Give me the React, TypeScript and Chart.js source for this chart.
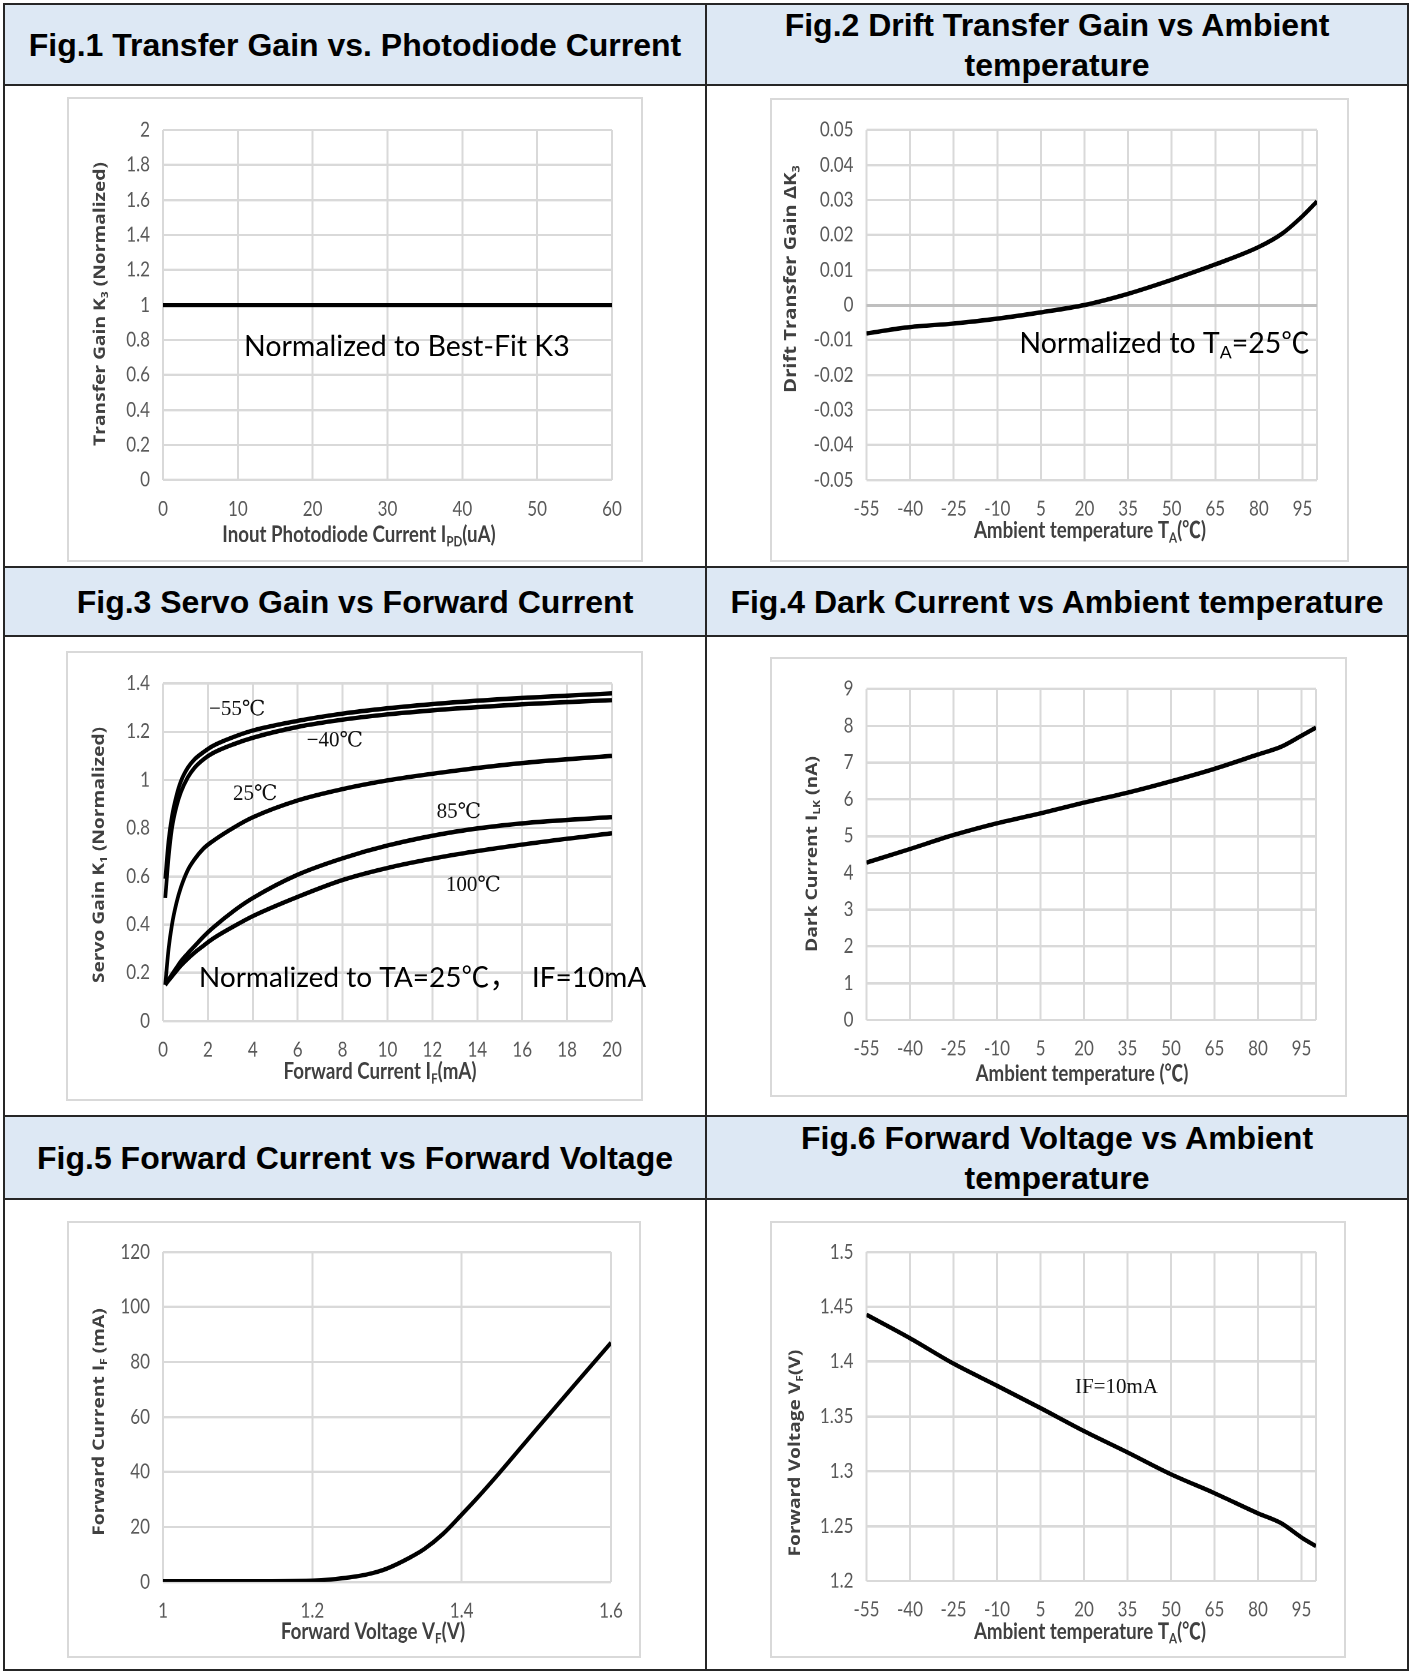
import React, { useEffect, useRef } from "react";
import { Chart, registerables } from "chart.js";

Chart.register(...registerables);

// vertical stretch of the original chart pictures
const S = 1.2;

// ---------------- DATA ----------------
// Fig.1
const fig1Current = [0, 60];
const fig1Gain = [1, 1];
const fig1XTicks = [0, 10, 20, 30, 40, 50, 60];
const fig1YTicks = [0, 0.2, 0.4, 0.6, 0.8, 1, 1.2, 1.4, 1.6, 1.8, 2];

// shared temperature axis
const tempTicks = [-55, -40, -25, -10, 5, 20, 35, 50, 65, 80, 95, 100];
const tempUnlabeled = [100];

// Fig.2
const fig2Temp = [-55, -40, -25, -10, 5, 20, 35, 50, 65, 80, 88, 95, 100];
const fig2Drift = [-0.0081, -0.0063, -0.0053, -0.0039, -0.0021, 0.0, 0.0032, 0.0072, 0.0116, 0.0166, 0.0204, 0.0254, 0.0296];
const fig2YTicks = [-0.05, -0.04, -0.03, -0.02, -0.01, 0, 0.01, 0.02, 0.03, 0.04, 0.05];

// Fig.3
const fig3Current = [0.1, 0.25, 0.4, 0.6, 0.8, 1.1, 1.4, 1.8, 2.2, 3.2, 4, 6, 8, 10, 13, 16, 20];
const fig3GainM55 = [0.59, 0.75, 0.85, 0.935, 0.995, 1.05, 1.085, 1.115, 1.14, 1.18, 1.205, 1.245, 1.275, 1.297, 1.322, 1.34, 1.359];
const fig3GainM40 = [0.51, 0.68, 0.8, 0.89, 0.95, 1.01, 1.05, 1.085, 1.11, 1.15, 1.175, 1.22, 1.25, 1.272, 1.296, 1.314, 1.331];
const fig3Gain25 = [0.15, 0.3, 0.4, 0.49, 0.555, 0.625, 0.67, 0.715, 0.745, 0.805, 0.845, 0.915, 0.962, 0.998, 1.038, 1.07, 1.1];
const fig3Gain85 = [0.15, 0.172, 0.193, 0.221, 0.248, 0.28, 0.31, 0.35, 0.385, 0.46, 0.51, 0.607, 0.675, 0.728, 0.785, 0.82, 0.846];
const fig3Gain100 = [0.15, 0.168, 0.185, 0.208, 0.23, 0.258, 0.283, 0.312, 0.34, 0.395, 0.435, 0.515, 0.585, 0.635, 0.69, 0.732, 0.779];
const fig3XTicks = [0, 2, 4, 6, 8, 10, 12, 14, 16, 18, 20];
const fig3YTicks = [0, 0.2, 0.4, 0.6, 0.8, 1, 1.2, 1.4];

// Fig.4
const fig4Temp = [-55, -40, -25, -10, 5, 20, 35, 50, 65, 80, 88, 95, 100];
const fig4Dark = [4.28, 4.65, 5.03, 5.35, 5.62, 5.91, 6.18, 6.49, 6.83, 7.22, 7.43, 7.73, 7.95];
const fig4YTicks = [0, 1, 2, 3, 4, 5, 6, 7, 8, 9];

// Fig.5
const fig5Voltage = [1.0, 1.1, 1.2, 1.25, 1.28, 1.3, 1.33, 1.35, 1.375, 1.4, 1.42, 1.45, 1.5, 1.55, 1.6];
const fig5Current = [0.2, 0.2, 0.5, 1.7, 3.2, 4.9, 8.8, 12, 17.5, 24.5, 30.3, 39.5, 55.5, 71.3, 87];
const fig5XTicks = [1, 1.2, 1.4, 1.6];
const fig5YTicks = [0, 20, 40, 60, 80, 100, 120];

// Fig.6
const fig6Temp = [-55, -40, -25, -10, 5, 20, 35, 50, 65, 80, 88, 95, 100];
const fig6Voltage = [1.4428, 1.4214, 1.3982, 1.3781, 1.3577, 1.3367, 1.3173, 1.2973, 1.2801, 1.2617, 1.2527, 1.2397, 1.2317];
const fig6YTicks = [1.2, 1.25, 1.3, 1.35, 1.4, 1.45, 1.5];

// ---------------- STYLE ----------------
const LATO = "Lato, 'Noto Sans CJK SC', sans-serif";
const OPEN = "'Open Sans', 'Noto Sans CJK SC', sans-serif";
const SERIF = "'Liberation Serif', 'DejaVu Serif', 'Noto Sans CJK SC', serif";
const GRID = "#d9d9d9";

type Seg = { t: string; sub?: boolean };
type Series = { x: number[]; y: number[] };
type Note = { segs: Seg[]; x: number; y: number; family: string; size: number; color: string };
type Spec = {
  box: { x: number; y: number; w: number; h: number };
  plot: { l: number; r: number; t: number; b: number };
  xRange: [number, number];
  yRange: [number, number];
  xTicks: number[];
  yTicks: number[];
  xHidden?: number[];
  series: Series[];
  xTitle: { segs: Seg[]; cx: number; base: number };
  yTitle: { segs: Seg[]; cx: number; cy: number; size?: number };
  notes: Note[];
  zeroLine?: boolean;
};

function drawSegs(ctx: CanvasRenderingContext2D, segs: Seg[], x: number, y: number, size: number, weight: string, family: string, color: string, align: "left" | "center") {
  ctx.fillStyle = color;
  ctx.textAlign = "left";
  ctx.textBaseline = "alphabetic";
  let total = 0;
  const widths: number[] = [];
  for (const s of segs) {
    ctx.font = `${weight} ${s.sub ? size * 0.62 : size}px ${family}`;
    const w = ctx.measureText(s.t).width;
    widths.push(w);
    total += w;
  }
  let cx = align === "center" ? x - total / 2 : x;
  segs.forEach((s, i) => {
    ctx.font = `${weight} ${s.sub ? size * 0.62 : size}px ${family}`;
    ctx.fillText(s.t, cx, s.sub ? y + size * 0.2 : y);
    cx += widths[i];
  });
}

const fmt = (v: number) => String(parseFloat(Number(v).toFixed(3)));

const EXTRA = 16;
const YT_SIZE = 16;
const XT_SIZE = 18.7;
const TICK_SIZE = 17;

function ChartBox({ spec }: { spec: Spec }) {
  const ref = useRef<HTMLCanvasElement>(null);
  const W = spec.box.w + EXTRA;
  const H = Math.round(spec.box.h / S);
  useEffect(() => {
    const { box, plot } = spec;
    const left = plot.l - box.x;
    const right = plot.r - box.x;
    const top = (plot.t - box.y) / S;
    const bottom = (plot.b - box.y) / S;
    const ytSize = spec.yTitle.size || YT_SIZE;
    const textPlugin = {
      id: "texts",
      afterDatasetsDraw(chart: any) {
        const ctx: CanvasRenderingContext2D = chart.ctx;
        ctx.save();
        drawSegs(ctx, spec.xTitle.segs, spec.xTitle.cx - box.x, (spec.xTitle.base - box.y) / S, XT_SIZE, "bold", LATO, "#404040", "center");
        ctx.save();
        ctx.translate(spec.yTitle.cx - box.x + ytSize * 0.36, (spec.yTitle.cy - box.y) / S);
        ctx.rotate(-Math.PI / 2);
        drawSegs(ctx, spec.yTitle.segs, 0, 0, ytSize, "bold", OPEN, "#404040", "center");
        ctx.restore();
        for (const n of spec.notes) {
          const px = chart.scales.x.getPixelForValue(n.x);
          const py = chart.scales.y.getPixelForValue(n.y);
          ctx.save();
          ctx.translate(px, py);
          ctx.scale(1, 1 / S);
          drawSegs(ctx, n.segs, 0, 0, n.size, "normal", n.family, n.color, "left");
          ctx.restore();
        }
        ctx.restore();
      },
    };
    const chart = new Chart(ref.current as HTMLCanvasElement, {
      type: "line",
      data: {
        datasets: spec.series.map((s) => ({
          data: s.x.map((x, i) => ({ x, y: s.y[i] })),
          borderColor: "#000",
          borderWidth: 3.7,
          pointRadius: 0,
          fill: false,
          cubicInterpolationMode: "monotone",
        })),
      },
      options: {
        responsive: false,
        animation: false,
        devicePixelRatio: 2,
        layout: { padding: { top, right: W - right, left: 0, bottom: 0 } },
        plugins: { legend: { display: false }, tooltip: { enabled: false }, title: { display: false } },
        scales: {
          x: {
            type: "linear",
            min: spec.xRange[0],
            max: spec.xRange[1],
            afterBuildTicks: (sc: any) => {
              sc.ticks = spec.xTicks.map((v) => ({ value: v }));
            },
            afterFit: (sc: any) => {
              sc.height = H - bottom;
            },
            grid: { color: GRID, lineWidth: 2, drawTicks: false },
            border: { display: false },
            ticks: {
              autoSkip: false,
              maxRotation: 0,
              padding: 14,
              color: "#595959",
              font: { family: LATO, size: TICK_SIZE },
              callback: (v: any) => ((spec.xHidden || []).includes(Number(v)) ? "" : fmt(Number(v))),
            },
          },
          y: {
            type: "linear",
            min: spec.yRange[0],
            max: spec.yRange[1],
            afterBuildTicks: (sc: any) => {
              sc.ticks = spec.yTicks.map((v) => ({ value: v }));
            },
            afterFit: (sc: any) => {
              sc.width = left;
            },
            grid: {
              color: (c: any) => (spec.zeroLine && c.tick && c.tick.value === 0 ? "#bfbfbf" : GRID),
              lineWidth: (c: any) => (spec.zeroLine && c.tick && c.tick.value === 0 ? 2.5 : 2),
              drawTicks: false,
            },
            border: { display: false },
            ticks: {
              autoSkip: false,
              padding: 13,
              color: "#595959",
              font: { family: LATO, size: TICK_SIZE },
              callback: (v: any) => fmt(Number(v)),
            },
          },
        },
      } as any,
      plugins: [textPlugin],
    });
    return () => chart.destroy();
  }, [spec]);
  return (
    <>
      <div
        style={{
          position: "absolute",
          left: spec.box.x,
          top: spec.box.y,
          width: spec.box.w,
          height: spec.box.h,
          border: "2px solid #d9d9d9",
          boxSizing: "border-box",
        }}
      />
      <div
        style={{
          position: "absolute",
          left: spec.box.x,
          top: spec.box.y,
          width: W,
          height: H,
          transform: `scaleY(${S})`,
          transformOrigin: "0 0",
        }}
      >
        <canvas ref={ref} width={W} height={H} style={{ display: "block", width: W, height: H }} />
      </div>
    </>
  );
}

const specs: Spec[] = [
  {
    box: { x: 67, y: 97, w: 576, h: 465 },
    plot: { l: 163, r: 612, t: 130, b: 480 },
    xRange: [0, 60],
    yRange: [0, 2],
    xTicks: fig1XTicks,
    yTicks: fig1YTicks,
    series: [{ x: fig1Current, y: fig1Gain }],
    xTitle: { segs: [{ t: "Inout Photodiode Current I" }, { t: "PD", sub: true }, { t: "(uA)" }], cx: 359, base: 542 },
    yTitle: { segs: [{ t: "Transfer Gain K" }, { t: "3", sub: true }, { t: " (Normalized)" }], cx: 99, cy: 304 },
    notes: [{ segs: [{ t: "Normalized to Best-Fit K3" }], x: 10.83, y: 0.706, family: LATO, size: 28.5, color: "#000" }],
  },
  {
    box: { x: 770, y: 98, w: 579, h: 464 },
    plot: { l: 866.5, r: 1317, t: 130, b: 480 },
    xRange: [-55, 100],
    yRange: [-0.05, 0.05],
    xTicks: tempTicks,
    xHidden: tempUnlabeled,
    yTicks: fig2YTicks,
    zeroLine: true,
    series: [{ x: fig2Temp, y: fig2Drift }],
    xTitle: { segs: [{ t: "Ambient temperature T" }, { t: "A", sub: true }, { t: "(℃)" }], cx: 1090, base: 538 },
    yTitle: { segs: [{ t: "Drift Transfer Gain ΔK" }, { t: "3", sub: true }], cx: 790, cy: 279, size: 16.8 },
    notes: [{ segs: [{ t: "Normalized to T" }, { t: "A", sub: true }, { t: "=25℃" }], x: -2.4, y: -0.0137, family: LATO, size: 28.5, color: "#000" }],
  },
  {
    box: { x: 66, y: 651, w: 577, h: 450 },
    plot: { l: 163, r: 612, t: 683.5, b: 1021 },
    xRange: [0, 20],
    yRange: [0, 1.4],
    xTicks: fig3XTicks,
    yTicks: fig3YTicks,
    series: [
      { x: fig3Current, y: fig3GainM55 },
      { x: fig3Current, y: fig3GainM40 },
      { x: fig3Current, y: fig3Gain25 },
      { x: fig3Current, y: fig3Gain85 },
      { x: fig3Current, y: fig3Gain100 },
    ],
    xTitle: { segs: [{ t: "Forward Current I" }, { t: "F", sub: true }, { t: "(mA)" }], cx: 380, base: 1079 },
    yTitle: { segs: [{ t: "Servo Gain K" }, { t: "1", sub: true }, { t: " (Normalized)" }], cx: 98, cy: 855 },
    notes: [
      { segs: [{ t: "−55℃" }], x: 2.05, y: 1.269, family: SERIF, size: 21, color: "#111" },
      { segs: [{ t: "−40℃" }], x: 6.4, y: 1.138, family: SERIF, size: 21, color: "#111" },
      { segs: [{ t: "25℃" }], x: 3.12, y: 0.917, family: SERIF, size: 21, color: "#111" },
      { segs: [{ t: "85℃" }], x: 12.19, y: 0.844, family: SERIF, size: 21, color: "#111" },
      { segs: [{ t: "100℃" }], x: 12.6, y: 0.539, family: SERIF, size: 21, color: "#111" },
      { segs: [{ t: "Normalized to TA=25℃，  IF=10mA" }], x: 1.6, y: 0.142, family: LATO, size: 28, color: "#000" },
    ],
  },
  {
    box: { x: 770, y: 657, w: 577, h: 440 },
    plot: { l: 866.5, r: 1316, t: 689, b: 1020 },
    xRange: [-55, 100],
    yRange: [0, 9],
    xTicks: tempTicks,
    xHidden: tempUnlabeled,
    yTicks: fig4YTicks,
    series: [{ x: fig4Temp, y: fig4Dark }],
    xTitle: { segs: [{ t: "Ambient temperature (℃)" }], cx: 1082, base: 1081 },
    yTitle: { segs: [{ t: "Dark Current I" }, { t: "LK", sub: true }, { t: " (nA)" }], cx: 811, cy: 854 },
    notes: [],
  },
  {
    box: { x: 67, y: 1221, w: 574, h: 437 },
    plot: { l: 163, r: 611, t: 1252, b: 1582 },
    xRange: [1, 1.6],
    yRange: [0, 120],
    xTicks: fig5XTicks,
    yTicks: fig5YTicks,
    series: [{ x: fig5Voltage, y: fig5Current }],
    xTitle: { segs: [{ t: "Forward Voltage V" }, { t: "F", sub: true }, { t: "(V)" }], cx: 373, base: 1639 },
    yTitle: { segs: [{ t: "Forward Current I" }, { t: "F", sub: true }, { t: " (mA)" }], cx: 98, cy: 1422 },
    notes: [],
  },
  {
    box: { x: 770, y: 1221, w: 576, h: 437 },
    plot: { l: 866.5, r: 1316, t: 1252, b: 1581 },
    xRange: [-55, 100],
    yRange: [1.2, 1.5],
    xTicks: tempTicks,
    xHidden: tempUnlabeled,
    yTicks: fig6YTicks,
    series: [{ x: fig6Temp, y: fig6Voltage }],
    xTitle: { segs: [{ t: "Ambient temperature T" }, { t: "A", sub: true }, { t: "(℃)" }], cx: 1090, base: 1639 },
    yTitle: { segs: [{ t: "Forward Voltage V" }, { t: "F", sub: true }, { t: "(V)" }], cx: 794, cy: 1453 },
    notes: [{ segs: [{ t: "IF=10mA" }], x: 16.9, y: 1.3714, family: SERIF, size: 21, color: "#111" }],
  },
];

const headers = [
  { x: 4, y: 4, w: 702, h: 81, lines: ["Fig.1 Transfer Gain vs. Photodiode Current"] },
  { x: 706, y: 4, w: 702, h: 81, lines: ["Fig.2 Drift Transfer Gain vs Ambient", "temperature"] },
  { x: 4, y: 567, w: 702, h: 69, lines: ["Fig.3 Servo Gain vs Forward Current"] },
  { x: 706, y: 567, w: 702, h: 69, lines: ["Fig.4 Dark Current vs Ambient temperature"] },
  { x: 4, y: 1116, w: 702, h: 83, lines: ["Fig.5 Forward Current vs Forward Voltage"] },
  { x: 706, y: 1116, w: 702, h: 83, lines: ["Fig.6 Forward Voltage vs Ambient", "temperature"] },
];

const hLines = [4, 85, 567, 636, 1116, 1199, 1670];
const vLines = [4, 706, 1408];

export default function App() {
  return (
    <div style={{ position: "absolute", left: 0, top: 0, width: 1412, height: 1672, background: "#fff", overflow: "hidden" }}>
      {headers.map((h, i) => (
        <div
          key={"h" + i}
          style={{
            position: "absolute",
            left: h.x,
            top: h.y,
            width: h.w,
            height: h.h,
            background: "#dde8f4",
            display: "flex",
            flexDirection: "column",
            alignItems: "center",
            justifyContent: "center",
            font: "bold 32px 'Liberation Sans', Arial, sans-serif",
            lineHeight: "40px",
            color: "#000",
            textAlign: "center",
          }}
        >
          {h.lines.map((l, j) => (
            <div key={j}>{l}</div>
          ))}
        </div>
      ))}
      {hLines.map((y, i) => (
        <div key={"hl" + i} style={{ position: "absolute", left: 3, top: y - 1, width: 1406, height: 2, background: "#262626" }} />
      ))}
      {vLines.map((x, i) => (
        <div key={"vl" + i} style={{ position: "absolute", left: x - 1, top: 3, width: 2, height: 1668, background: "#262626" }} />
      ))}
      {specs.map((s, i) => (
        <ChartBox key={i} spec={s} />
      ))}
    </div>
  );
}
